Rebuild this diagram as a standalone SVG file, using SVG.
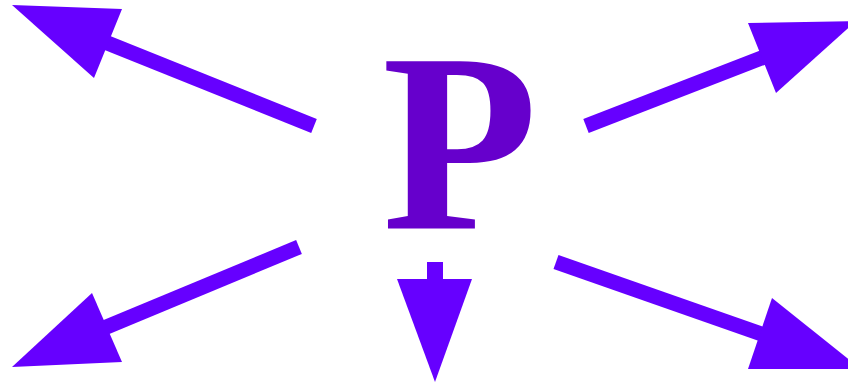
<svg xmlns="http://www.w3.org/2000/svg" width="848" height="383" viewBox="0 0 848 383">
<style>
.shaft{stroke:#6600ff;stroke-width:15;fill:none}
.head{fill:#6600ff;stroke:none}
</style>
<rect width="848" height="383" fill="#ffffff"/>
<g id="node-P">
<text x="382" y="228" font-family="'Times New Roman', 'Liberation Serif', serif" font-weight="bold" font-size="255" fill="#6600cc">P</text>
</g>
<g id="connectors">
<line class="shaft" x1="314" y1="126" x2="80" y2="32"/>
<polygon class="head" points="12,5 122,9 94,78"/>
<line class="shaft" x1="586" y1="126" x2="790" y2="47"/>
<polygon class="head" points="748,23 856,21 776,93"/>
<line class="shaft" x1="299" y1="247" x2="80" y2="338"/>
<polygon class="head" points="12,367 92,293 122,362"/>
<rect class="head" x="427" y="262" width="16" height="18"/>
<polygon class="head" points="397,279 472,279 435,382"/>
<line class="shaft" x1="556" y1="262" x2="790" y2="344"/>
<polygon class="head" points="772,298 861,369 748,369"/>
</g>
</svg>
